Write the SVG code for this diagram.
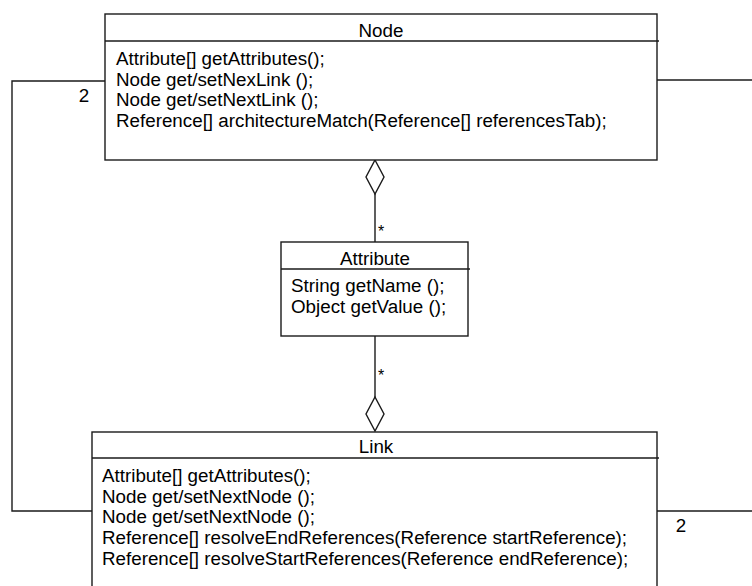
<svg xmlns="http://www.w3.org/2000/svg" width="752" height="586" viewBox="0 0 752 586">
<style>
.box{fill:#fff;stroke:#1a1a1a;stroke-width:1.4}
.ln{fill:none;stroke:#1a1a1a;stroke-width:1.4}
.dia{fill:#fff;stroke:#1a1a1a;stroke-width:1.4}
text{font-family:"Liberation Sans",Arial,sans-serif;font-size:18.8px;fill:#000}
.t{text-anchor:middle}
.m{font-size:16px}
</style>
<rect width="752" height="586" fill="#fff"/>
<g id="connectors">
<polyline class="ln" points="105,81 12,81 12,511 92,511"/>
<line class="ln" x1="657" y1="80" x2="752" y2="80"/>
<line class="ln" x1="657" y1="511" x2="752" y2="511"/>
<line class="ln" x1="375" y1="193" x2="375" y2="242"/>
<line class="ln" x1="375" y1="336" x2="375" y2="398"/>
<polygon class="dia" points="375,160 384,177 375,194 366,177"/>
<polygon class="dia" points="375,397 384,414 375,431 366,414"/>
<text class="m" x="378" y="237">*</text>
<text class="m" x="378" y="381">*</text>
<text x="84" y="102" class="t">2</text>
<text x="681" y="532" class="t">2</text>
</g>
<g id="node-Node">
<rect class="box" x="105" y="14" width="552" height="146"/>
<line class="ln" x1="105" y1="41" x2="659" y2="41"/>
<text class="t" x="381" y="37">Node</text>
<text x="116" y="65">Attribute[] getAttributes();</text>
<text x="116" y="86">Node get/setNexLink ();</text>
<text x="116" y="106">Node get/setNextLink ();</text>
<text x="116" y="127">Reference[] architectureMatch(Reference[] referencesTab);</text>
</g>
<g id="node-Attribute">
<rect class="box" x="281" y="242" width="187" height="94"/>
<line class="ln" x1="281" y1="269" x2="470" y2="269"/>
<text class="t" x="375" y="265">Attribute</text>
<text x="291" y="292">String getName ();</text>
<text x="291" y="313">Object getValue ();</text>
</g>
<g id="node-Link">
<rect class="box" x="92" y="432" width="565" height="160"/>
<line class="ln" x1="92" y1="458" x2="659" y2="458"/>
<text class="t" x="376" y="453">Link</text>
<text x="102" y="482">Attribute[] getAttributes();</text>
<text x="102" y="503">Node get/setNextNode ();</text>
<text x="102" y="523">Node get/setNextNode ();</text>
<text x="102" y="544">Reference[] resolveEndReferences(Reference startReference);</text>
<text x="102" y="565">Reference[] resolveStartReferences(Reference endReference);</text>
</g>
</svg>
